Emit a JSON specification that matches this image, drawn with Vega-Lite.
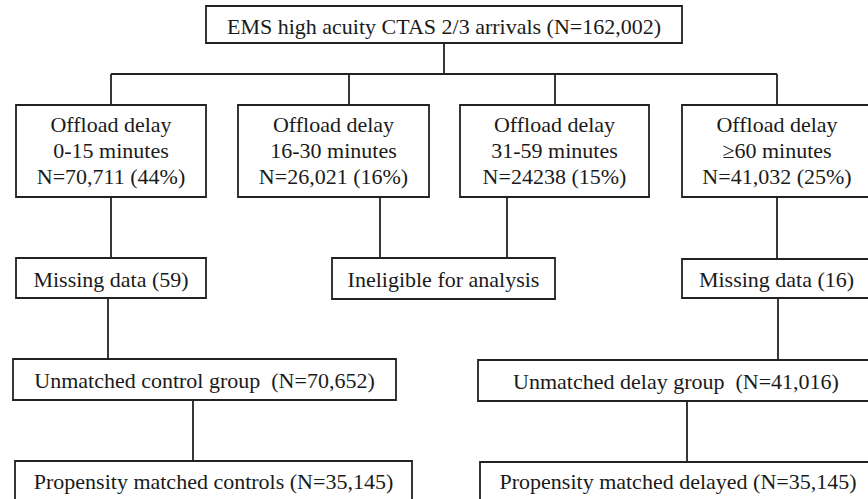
{
  "$schema": "https://vega.github.io/schema/vega-lite/v6.json",
  "width": 868,
  "height": 499,
  "padding": 0,
  "autosize": {"type": "fit", "contains": "padding"},
  "background": "white",
  "config": {"view": {"stroke": null}},
  "datasets": {
    "boxes": [
      {"id": "top", "x1": 206, "x2": 682, "y1": 6, "y2": 43},
      {"id": "b1", "x1": 16, "x2": 206, "y1": 105, "y2": 197},
      {"id": "b2", "x1": 238, "x2": 429, "y1": 105, "y2": 197},
      {"id": "b3", "x1": 460, "x2": 649, "y1": 105, "y2": 197},
      {"id": "b4", "x1": 682, "x2": 872, "y1": 105, "y2": 197},
      {"id": "md59", "x1": 16, "x2": 206, "y1": 258, "y2": 298},
      {"id": "inel", "x1": 332, "x2": 555, "y1": 258, "y2": 299},
      {"id": "md16", "x1": 682, "x2": 872, "y1": 259, "y2": 298},
      {"id": "ucg", "x1": 13, "x2": 396, "y1": 359, "y2": 400},
      {"id": "udg", "x1": 478, "x2": 875, "y1": 360, "y2": 401},
      {"id": "pmc", "x1": 15, "x2": 412, "y1": 461, "y2": 510},
      {"id": "pmd", "x1": 480, "x2": 876, "y1": 462, "y2": 510}
    ],
    "links": [
      {"x1": 444, "y1": 43, "x2": 444, "y2": 74},
      {"x1": 111, "y1": 74, "x2": 777, "y2": 74},
      {"x1": 111, "y1": 74, "x2": 111, "y2": 105},
      {"x1": 349, "y1": 74, "x2": 349, "y2": 105},
      {"x1": 555, "y1": 74, "x2": 555, "y2": 105},
      {"x1": 777, "y1": 74, "x2": 777, "y2": 105},
      {"x1": 111, "y1": 197, "x2": 111, "y2": 258},
      {"x1": 380, "y1": 197, "x2": 380, "y2": 258},
      {"x1": 507, "y1": 197, "x2": 507, "y2": 258},
      {"x1": 777, "y1": 197, "x2": 777, "y2": 259},
      {"x1": 108, "y1": 298, "x2": 108, "y2": 359},
      {"x1": 778, "y1": 298, "x2": 778, "y2": 360},
      {"x1": 193, "y1": 400, "x2": 193, "y2": 461},
      {"x1": 687, "y1": 401, "x2": 687, "y2": 462}
    ],
    "labels": [
      {"x": 444, "y": 34, "label": "EMS high acuity CTAS 2/3 arrivals (N=162,002)"},
      {"x": 111, "y": 132, "label": "Offload delay"},
      {"x": 111, "y": 158, "label": "0-15 minutes"},
      {"x": 111, "y": 184, "label": "N=70,711 (44%)"},
      {"x": 333.5, "y": 132, "label": "Offload delay"},
      {"x": 333.5, "y": 158, "label": "16-30 minutes"},
      {"x": 333.5, "y": 184, "label": "N=26,021 (16%)"},
      {"x": 554.5, "y": 132, "label": "Offload delay"},
      {"x": 554.5, "y": 158, "label": "31-59 minutes"},
      {"x": 554.5, "y": 184, "label": "N=24238 (15%)"},
      {"x": 777, "y": 132, "label": "Offload delay"},
      {"x": 777, "y": 158, "label": "≥60 minutes"},
      {"x": 777, "y": 184, "label": "N=41,032 (25%)"},
      {"x": 111, "y": 287, "label": "Missing data (59)"},
      {"x": 443.5, "y": 287, "label": "Ineligible for analysis"},
      {"x": 776.5, "y": 287, "label": "Missing data (16)"},
      {"x": 204.5, "y": 388, "label": "Unmatched control group\u00a0 (N=70,652)"},
      {"x": 676, "y": 389, "label": "Unmatched delay group\u00a0 (N=41,016)"},
      {"x": 213.5, "y": 489, "label": "Propensity matched controls (N=35,145)"},
      {"x": 678, "y": 489, "label": "Propensity matched delayed (N=35,145)"}
    ]
  },
  "layer": [
    {
      "data": {"name": "boxes"},
      "mark": {"type": "rect", "fill": "white", "stroke": "#222222", "strokeWidth": 1.8, "clip": true},
      "encoding": {
        "x": {"field": "x1", "type": "quantitative", "scale": {"domain": [0, 868], "nice": false, "zero": false}, "axis": null},
        "x2": {"field": "x2"},
        "y": {"field": "y1", "type": "quantitative", "scale": {"domain": [499, 0], "nice": false, "zero": false}, "axis": null},
        "y2": {"field": "y2"}
      }
    },
    {
      "data": {"name": "links"},
      "mark": {"type": "rule", "stroke": "#222222", "strokeWidth": 1.8, "clip": true},
      "encoding": {
        "x": {"field": "x1", "type": "quantitative"},
        "x2": {"field": "x2"},
        "y": {"field": "y1", "type": "quantitative"},
        "y2": {"field": "y2"}
      }
    },
    {
      "data": {"name": "labels"},
      "mark": {"type": "text", "font": "Liberation Serif", "fontSize": 22, "fill": "#1a1a1a", "align": "center", "baseline": "alphabetic", "clip": true},
      "encoding": {
        "x": {"field": "x", "type": "quantitative"},
        "y": {"field": "y", "type": "quantitative"},
        "text": {"field": "label"}
      }
    }
  ]
}
